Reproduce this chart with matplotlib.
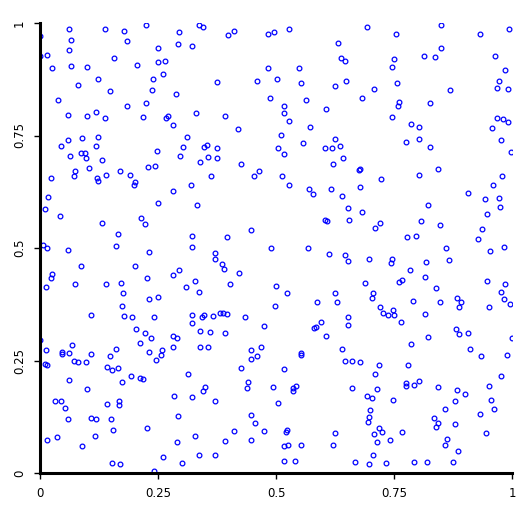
import matplotlib
matplotlib.use("Agg")
import matplotlib.pyplot as plt

# points, grouped roughly by region (top row, middle row, bottom row)
x_top = [0.0615, 0.137, 0.177, 0.224, 0.001, 0.065, 0.184, 0.0615, 0.001, 0.014, 0.156, 0.065, 0.099, 0.205,
         0.025, 0.122, 0.239, 0.080, 0.148, 0.237, 0.038, 0.184, 0.224, 0.059, 0.099, 0.118, 0.137, 0.218,
         0.059, 0.088, 0.122, 0.044, 0.118, 0.063, 0.086, 0.095, 0.097, 0.131, 0.103, 0.074, 0.169, 0.228, 0.243,
         0.336, 0.345, 0.294, 0.398, 0.412, 0.482, 0.495, 0.249, 0.292, 0.323, 0.251, 0.264, 0.260, 0.482,
         0.374, 0.459, 0.288, 0.487, 0.330, 0.266, 0.271, 0.391, 0.281, 0.419, 0.311, 0.248, 0.304, 0.347,
         0.353, 0.374, 0.296, 0.355, 0.374, 0.340, 0.425, 0.463,
         0.527, 0.692, 0.631, 0.637, 0.646, 0.745, 0.548, 0.502, 0.554, 0.626, 0.648, 0.707, 0.563, 0.682,
         0.516, 0.518, 0.605, 0.527, 0.571, 0.745, 0.510, 0.504, 0.557, 0.624, 0.603, 0.618, 0.635, 0.518,
         0.641, 0.620, 0.675, 0.679,
         0.849, 0.754, 0.932, 0.993, 0.849, 0.813, 0.836, 0.965, 0.749, 0.985, 0.756, 0.972, 0.868, 0.968,
         0.991, 0.760, 0.758, 0.826, 0.785, 0.802, 0.968, 0.980, 0.991, 0.957, 0.775, 0.804, 0.826, 0.976,
         0.997, 0.843]
y_top = [0.987, 0.987, 0.983, 0.996, 0.972, 0.963, 0.959, 0.941, 0.927, 0.930, 0.923, 0.905, 0.903, 0.907,
         0.899, 0.876, 0.876, 0.863, 0.850, 0.852, 0.830, 0.816, 0.823, 0.796, 0.794, 0.803, 0.790, 0.792,
         0.741, 0.745, 0.747, 0.727, 0.727, 0.705, 0.712, 0.712, 0.701, 0.696, 0.678, 0.672, 0.672, 0.681, 0.683,
         0.996, 0.992, 0.979, 0.974, 0.983, 0.976, 0.979, 0.945, 0.954, 0.950, 0.914, 0.916, 0.887, 0.901,
         0.870, 0.872, 0.843, 0.834, 0.801, 0.790, 0.794, 0.794, 0.774, 0.765, 0.747, 0.716, 0.725, 0.725,
         0.730, 0.723, 0.705, 0.703, 0.701, 0.692, 0.687, 0.672,
         0.987, 0.992, 0.956, 0.923, 0.916, 0.903, 0.899, 0.876, 0.867, 0.859, 0.872, 0.854, 0.830, 0.834,
         0.816, 0.801, 0.810, 0.783, 0.770, 0.792, 0.752, 0.723, 0.734, 0.743, 0.723, 0.723, 0.727, 0.710,
         0.699, 0.687, 0.674, 0.676,
         0.996, 0.976, 0.976, 0.987, 0.945, 0.927, 0.925, 0.927, 0.921, 0.896, 0.867, 0.872, 0.852, 0.856,
         0.854, 0.825, 0.816, 0.823, 0.776, 0.770, 0.790, 0.787, 0.781, 0.767, 0.736, 0.743, 0.725, 0.739,
         0.714, 0.676]

x_mid = [0.0226, 0.071, 0.120, 0.122, 0.139, 0.190, 0.201, 0.199, 0.016, 0.010, 0.042, 0.131, 0.215, 0.222,
         0.165, 0.006, 0.014, 0.059, 0.160, 0.230, 0.086, 0.201, 0.025, 0.023, 0.012, 0.074, 0.139, 0.171,
         0.226, 0.175, 0.230, 0.173, 0.107, 0.179, 0.194, 0.241,
         0.362, 0.453, 0.281, 0.319, 0.251, 0.332, 0.323, 0.396, 0.448, 0.323, 0.489, 0.370, 0.370, 0.385,
         0.389, 0.294, 0.281, 0.421, 0.328, 0.309, 0.336, 0.402, 0.249, 0.497, 0.323, 0.321, 0.343, 0.347,
         0.366, 0.381, 0.387, 0.396, 0.434, 0.474,
         0.512, 0.527, 0.569, 0.578, 0.616, 0.639, 0.679, 0.722, 0.652, 0.682, 0.603, 0.609, 0.654, 0.720,
         0.709, 0.567, 0.612, 0.646, 0.652, 0.696, 0.745, 0.743, 0.688, 0.499, 0.523, 0.626, 0.705, 0.703,
         0.586, 0.629, 0.720, 0.726, 0.737, 0.652, 0.595, 0.652,
         0.804, 0.978, 0.959, 0.906, 0.942, 0.972, 0.974, 0.823, 0.948, 0.807, 0.847, 0.936, 0.777, 0.796,
         0.927, 0.860, 0.953, 0.982, 0.817, 0.866, 0.783, 0.760, 0.768, 0.815, 0.948, 0.985, 0.838, 0.976,
         0.790, 0.847, 0.883, 0.893, 0.887, 0.951, 0.982, 0.995, 0.747, 0.749, 0.815, 0.764]
y_mid = [0.656, 0.661, 0.656, 0.650, 0.663, 0.663, 0.647, 0.639, 0.614, 0.587, 0.572, 0.556, 0.567, 0.554,
         0.532, 0.507, 0.499, 0.496, 0.505, 0.492, 0.459, 0.459, 0.443, 0.434, 0.414, 0.419, 0.419, 0.423,
         0.434, 0.401, 0.387, 0.372, 0.352, 0.350, 0.347, 0.347,
         0.661, 0.659, 0.627, 0.639, 0.601, 0.596, 0.527, 0.525, 0.541, 0.503, 0.501, 0.490, 0.476, 0.465,
         0.454, 0.452, 0.439, 0.445, 0.427, 0.414, 0.403, 0.419, 0.392, 0.372, 0.352, 0.334, 0.347, 0.352,
         0.350, 0.356, 0.356, 0.354, 0.347, 0.327,
         0.659, 0.639, 0.632, 0.621, 0.632, 0.616, 0.636, 0.654, 0.590, 0.581, 0.563, 0.561, 0.563, 0.556,
         0.545, 0.501, 0.487, 0.485, 0.472, 0.476, 0.476, 0.467, 0.423, 0.416, 0.399, 0.399, 0.399, 0.390,
         0.381, 0.379, 0.370, 0.356, 0.352, 0.347, 0.336, 0.330,
         0.663, 0.659, 0.641, 0.623, 0.610, 0.612, 0.592, 0.596, 0.576, 0.559, 0.552, 0.543, 0.525, 0.527,
         0.519, 0.501, 0.494, 0.503, 0.470, 0.474, 0.452, 0.425, 0.430, 0.436, 0.427, 0.419, 0.412, 0.403,
         0.383, 0.379, 0.390, 0.379, 0.370, 0.370, 0.387, 0.376, 0.363, 0.352, 0.354, 0.336]

x_low = [0.203, 0.222, 0.235, 0.001, 0.211, 0.067, 0.012, 0.230, 0.046, 0.046, 0.061, 0.109, 0.148, 0.162,
         0.010, 0.014, 0.071, 0.080, 0.097, 0.245, 0.143, 0.152, 0.165, 0.192, 0.211, 0.218, 0.061, 0.173,
         0.099, 0.031, 0.044, 0.052, 0.141, 0.167, 0.167, 0.059, 0.107, 0.118, 0.150, 0.154, 0.226, 0.116,
         0.014, 0.035, 0.088, 0.152, 0.169, 0.241,
         0.338, 0.360, 0.393, 0.281, 0.290, 0.258, 0.256, 0.281, 0.340, 0.355, 0.446, 0.468, 0.459, 0.446,
         0.425, 0.313, 0.440, 0.438, 0.349, 0.345, 0.493, 0.283, 0.323, 0.370, 0.292, 0.448, 0.455, 0.412,
         0.474, 0.328, 0.393, 0.448, 0.290, 0.260, 0.336, 0.370, 0.300,
         0.580, 0.584, 0.605, 0.552, 0.554, 0.639, 0.646, 0.662, 0.677, 0.718, 0.709, 0.516, 0.542, 0.537,
         0.535, 0.662, 0.713, 0.692, 0.703, 0.504, 0.699, 0.696, 0.694, 0.523, 0.521, 0.626, 0.718, 0.724,
         0.707, 0.741, 0.713, 0.525, 0.518, 0.552, 0.620, 0.705, 0.516, 0.540, 0.667, 0.696, 0.732,
         0.881, 0.887, 0.906, 0.821, 0.999, 0.787, 0.910, 0.934, 0.989, 0.779, 0.976, 0.804, 0.775, 0.775,
         0.792, 0.843, 0.883, 0.900, 0.951, 0.748, 0.879, 0.955, 0.961, 0.859, 0.932, 0.834, 0.843, 0.838,
         0.879, 0.768, 0.944, 0.862, 0.859, 0.885, 0.792, 0.819, 0.874]
y_low = [0.321, 0.312, 0.301, 0.296, 0.290, 0.285, 0.274, 0.270, 0.270, 0.265, 0.267, 0.265, 0.261, 0.276,
         0.243, 0.241, 0.250, 0.247, 0.247, 0.252, 0.236, 0.230, 0.234, 0.216, 0.212, 0.210, 0.207, 0.203,
         0.187, 0.159, 0.161, 0.145, 0.154, 0.161, 0.152, 0.119, 0.123, 0.121, 0.119, 0.096, 0.099, 0.083,
         0.074, 0.079, 0.061, 0.023, 0.019, 0.005,
         0.316, 0.314, 0.312, 0.305, 0.299, 0.274, 0.263, 0.279, 0.279, 0.281, 0.274, 0.281, 0.261, 0.254,
         0.234, 0.221, 0.203, 0.190, 0.192, 0.183, 0.192, 0.172, 0.170, 0.161, 0.127, 0.130, 0.112, 0.094,
         0.094, 0.083, 0.072, 0.074, 0.070, 0.036, 0.039, 0.039, 0.023,
         0.323, 0.325, 0.305, 0.267, 0.263, 0.276, 0.250, 0.250, 0.247, 0.239, 0.221, 0.232, 0.194, 0.190,
         0.183, 0.190, 0.187, 0.172, 0.167, 0.156, 0.141, 0.125, 0.114, 0.096, 0.092, 0.090, 0.099, 0.092,
         0.087, 0.074, 0.070, 0.063, 0.059, 0.063, 0.063, 0.041, 0.027, 0.027, 0.025, 0.021, 0.023,
         0.319, 0.310, 0.312, 0.303, 0.301, 0.287, 0.276, 0.259, 0.263, 0.241, 0.216, 0.205, 0.201, 0.194,
         0.196, 0.192, 0.185, 0.176, 0.194, 0.163, 0.161, 0.163, 0.143, 0.143, 0.132, 0.123, 0.112, 0.103,
         0.110, 0.092, 0.090, 0.076, 0.063, 0.050, 0.025, 0.025, 0.025]

x_vals = x_top + x_mid + x_low
y_vals = y_top + y_mid + y_low

tick_vals = [0, 0.25, 0.5, 0.75, 1]
tick_labels = ["0", "0.25", "0.5", "0.75", "1"]

fig = plt.figure(figsize=(5.30, 5.13), dpi=100)
ax = fig.add_axes([40 / 530, 40 / 513, 472 / 530, 450 / 513])

ax.plot(x_vals, y_vals, linestyle="none", marker="o", markersize=3.4,
        markerfacecolor="none", markeredgecolor="blue", markeredgewidth=0.9)

ax.set_xlim(0, 1)
ax.set_ylim(0, 1)
ax.set_xticks(tick_vals)
ax.set_xticklabels(tick_labels)
ax.set_yticks(tick_vals)
ax.set_yticklabels(tick_labels, rotation=90, va="center")

for side in ["top", "right"]:
    ax.spines[side].set_visible(False)
for side in ["left", "bottom"]:
    ax.spines[side].set_linewidth(2.2)
    ax.spines[side].set_color("black")

ax.tick_params(axis="both", direction="out", length=4, width=1, labelsize=8.5, pad=6, colors="black")

fig.savefig("out.png", dpi=100)
